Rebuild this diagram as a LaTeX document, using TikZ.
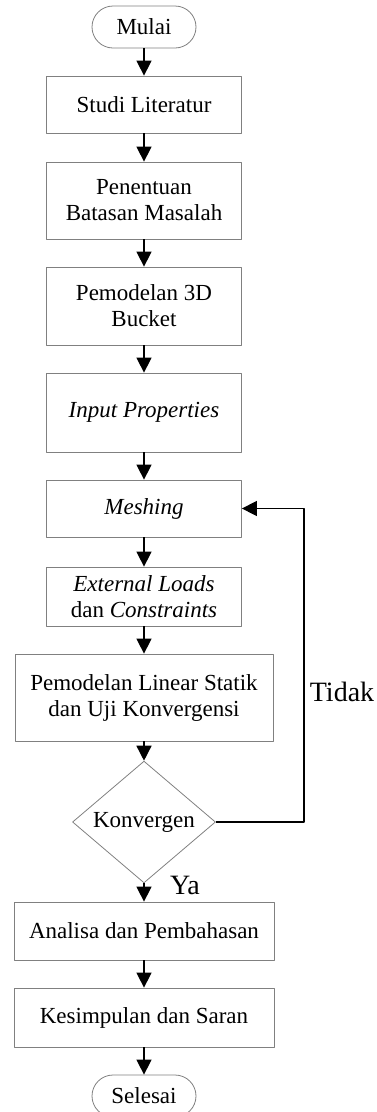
\documentclass[tikz,border=0pt]{standalone}
\usepackage{fontspec}
\setmainfont{Liberation Serif}
\usetikzlibrary{shapes.geometric,arrows.meta}
\begin{document}
\begin{tikzpicture}[x=1pt, y=-1pt, line join=round,
		font=\fontsize{23}{26}\selectfont,
		proses/.style={draw=gray, line width=0.8pt, align=center, inner sep=0pt},
		terminal/.style={proses, rounded corners=21pt, minimum width=104pt, minimum height=42pt},
		keputusan/.style={proses, diamond, minimum width=143pt, minimum height=99pt},
		panah/.style={-{Triangle[width=15pt,length=15pt]}, line width=1.5pt},
		label/.style={font=\fontsize{28}{30}\selectfont}]
	\useasboundingbox (0,0) rectangle (377,1112);
	
	% Terminal dan kotak proses
	\node[terminal] (mulai) at (144,27) {Mulai};
	\node[proses, minimum width=195pt, minimum height=57pt] (studi) at (144,104.5) {Studi Literatur};
	\node[proses, minimum width=195pt, minimum height=77pt] (batasan) at (144,200.5) {Penentuan\\Batasan Masalah};
	\node[proses, minimum width=195pt, minimum height=78pt] (model) at (144,306) {Pemodelan 3D\\Bucket};
	\node[proses, minimum width=195pt, minimum height=79pt] (input) at (144,412.5) {\textit{Input Properties}};
	\node[proses, minimum width=195pt, minimum height=57pt] (meshing) at (144,508.5) {\textit{Meshing}};
	\node[proses, minimum width=195pt, minimum height=59pt] (beban) at (144,596.5) {\textit{External Loads}\\dan \textit{Constraints}};
	\node[proses, minimum width=258pt, minimum height=87pt] (linear) at (144,697.5) {Pemodelan Linear Statik\\dan Uji Konvergensi};
	\node[keputusan] (konv) at (144,822) {Konvergen};
	\node[proses, minimum width=260pt, minimum height=58pt] (analisa) at (144,931) {Analisa dan Pembahasan};
	\node[proses, minimum width=260pt, minimum height=59pt] (simpul) at (144,1017.5) {Kesimpulan dan Saran};
	\node[terminal] (selesai) at (144,1096) {Selesai};
	
	% Panah alur utama
	\draw[panah] (mulai) -- (studi);
	\draw[panah] (studi) -- (batasan);
	\draw[panah] (batasan) -- (model);
	\draw[panah] (model) -- (input);
	\draw[panah] (input) -- (meshing);
	\draw[panah] (meshing) -- (beban);
	\draw[panah] (beban) -- (linear);
	\draw[panah] (linear) -- (konv);
	\draw[panah] (konv) -- (analisa);
	\draw[panah] (analisa) -- (simpul);
	\draw[panah] (simpul) -- (selesai);
	
	% Jalur balik ke Meshing
	\coordinate (balik) at (304,822);
	\draw[panah] (konv.east) -- (balik) |- (meshing.east);
	
	% Keterangan
	\node[label] (tidak) at (342,692) {Tidak};
	\node[label] (ya) at (185,885) {Ya};
\end{tikzpicture}
\end{document}
